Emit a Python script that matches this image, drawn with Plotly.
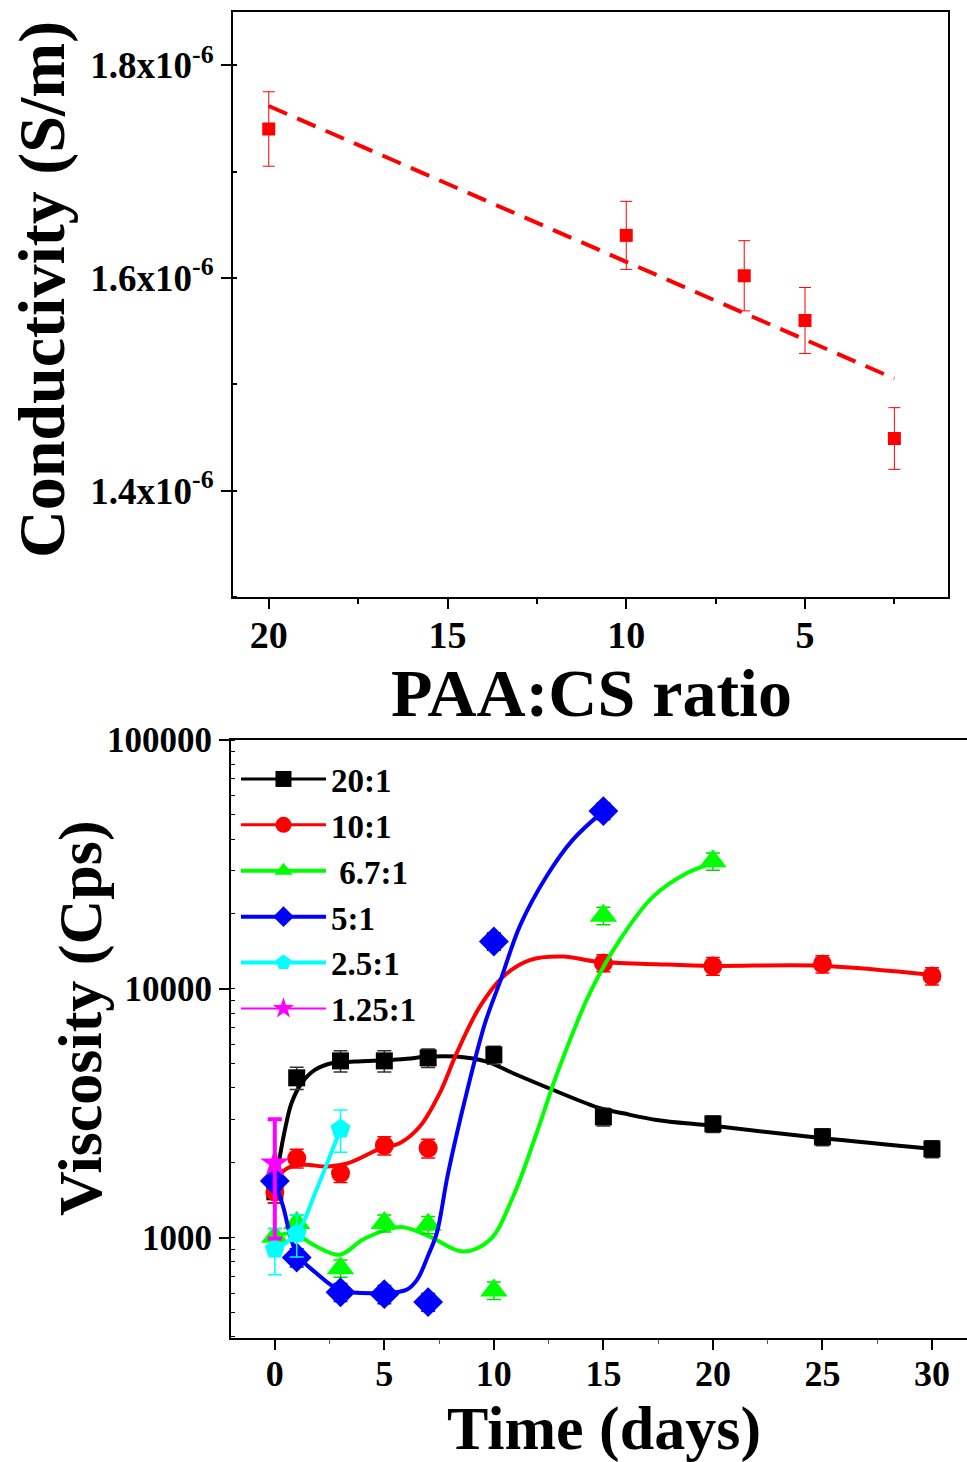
import numpy as np
import plotly.graph_objects as go

# ---------------- Top chart data: conductivity vs PAA:CS ratio ----------------
ratio = [20, 10, 6.7, 5, 2.5]
conductivity = [1.740e-6, 1.640e-6, 1.602e-6, 1.560e-6, 1.449e-6]
conductivity_err = [0.035e-6, 0.032e-6, 0.033e-6, 0.031e-6, 0.029e-6]

cond_tickvals = [1.4e-6, 1.6e-6, 1.8e-6]
cond_ticktext = ["1.4x10<sup>-6</sup>", "1.6x10<sup>-6</sup>", "1.8x10<sup>-6</sup>"]
ratio_tickvals = [20, 15, 10, 5]

# ---------------- Bottom chart data: viscosity vs time ----------------
days_20 = [0, 1, 3, 5, 7, 10, 15, 20, 25, 30]
visc_20 = [1531, 4395, 5140, 5140, 5285, 5435, 3063, 2870, 2546, 2276]
err_20 = [150, 450, 500, 500, 450, 450, 250, 220, 200, 180]

days_10 = [0, 1, 3, 5, 7, 10, 15, 20, 25, 30]
visc_10 = [1530, 2090, 1818, 2350, 2292, 15600, 12710, 12360, 12600, 11270]
err_10 = [150, 180, 150, 200, 200, 1200, 1000, 1000, 1000, 900]

days_67 = [0, 1, 3, 5, 7, 10, 15, 20]
visc_67 = [1010, 1146, 755, 1146, 1128, 615, 19700, 32600]
err_67 = [80, 90, 60, 90, 90, 50, 1600, 2600]

days_5 = [0, 1, 3, 5, 7, 10, 15]
visc_5 = [1693, 834, 605, 594, 552, 15500, 51800]
err_5 = [130, 70, 50, 50, 45, 1200, 4000]

days_25 = [0, 1, 3]
visc_25 = [901, 1038, 2736]
err_25 = [190, 200, 530]

days_125 = [0]
visc_125 = [1995]
err_125 = [1000]

# smooth guide curves
curve_20_x = [0, 0.23, 0.46, 0.76, 1.22, 1.83, 2.59, 3.65, 5.78, 7.08, 8.3, 9.67, 10.88, 12.71, 14.84, 15.9, 17.43, 20.0, 25.04, 30.06]
curve_20_y = [1530, 2121, 2715, 3475, 4180, 4729, 5029, 5105, 5221, 5350, 5350, 5105, 4585, 3927, 3318, 3164, 2977, 2818, 2513, 2276]

curve_10_x = [0, 0.3, 0.76, 1.37, 2.43, 3.35, 4.87, 5.7, 6.62, 7.53, 8.3, 9.36, 10.42, 11.64, 13.16, 14.69, 17.43, 20.0, 24.9, 30.06]
curve_10_y = [1560, 1820, 1935, 1965, 1935, 1996, 2293, 2400, 2800, 3816, 5518, 8490, 11200, 13060, 13490, 12880, 12570, 12370, 12405, 11370]

curve_67_x = [0, 0.5, 1.0, 1.9, 2.97, 4.0, 5.1, 5.86, 7.08, 8.6, 9.82, 10.88, 11.95, 12.86, 14.38, 15.75, 17.27, 18.8, 20.0]
curve_67_y = [1012, 1040, 1028, 923, 855, 982, 1077, 1104, 1012, 881, 982, 1466, 2632, 4500, 9620, 15740, 23490, 29160, 31970]

curve_5_x = [0, 0.38, 0.99, 1.9, 2.97, 4.95, 6.0, 6.5, 7.0, 7.4, 7.9, 8.75, 9.6, 10.3, 11.2, 12.4, 13.6, 15.0]
curve_5_y = [1693, 1336, 868, 721, 618, 600, 618, 680, 850, 1050, 1800, 3800, 7300, 10800, 18000, 28300, 39700, 51800]

curve_25_x = [0, 1, 1.9, 3]
curve_25_y = [901, 1040, 1560, 2736]

series = [
    ("20:1", "#000000", "square", 17, days_20, visc_20, err_20, curve_20_x, curve_20_y, 3, "#333333"),
    ("10:1", "#FF0000", "circle", 19, days_10, visc_10, err_10, curve_10_x, curve_10_y, 3, "#FF0000"),
    (" 6.7:1", "#00FF00", "triangle-up", 24, days_67, visc_67, err_67, curve_67_x, curve_67_y, 4, "#00DD00"),
    ("5:1", "#0000FF", "diamond", 23, days_5, visc_5, err_5, curve_5_x, curve_5_y, 4, "#0000FF"),
    ("2.5:1", "#00FFFF", "pentagon", 21, days_25, visc_25, err_25, curve_25_x, curve_25_y, 4, "#00FFFF"),
    ("1.25:1", "#FF00FF", "star", 22, days_125, visc_125, err_125, None, None, 2, "#FF00FF"),
]

FONT = "Liberation Serif"
W, H = 967, 1462

fig = go.Figure()

# ---------- top chart ----------
slope, intercept = np.polyfit(ratio, conductivity, 1)
fit_x = [ratio[0], ratio[-1]]
fit_y = [slope * v + intercept for v in fit_x]
fig.add_trace(go.Scatter(x=fit_x, y=fit_y, mode="lines", xaxis="x", yaxis="y",
                         line=dict(color="#FF0000", width=4, dash="20px,11px"),
                         showlegend=False, hoverinfo="skip"))
fig.add_trace(go.Scatter(x=ratio, y=conductivity, mode="markers", xaxis="x", yaxis="y",
                         marker=dict(symbol="square", size=13, color="#FF0000"),
                         error_y=dict(type="data", array=conductivity_err, color="#FF0000",
                                      thickness=1, width=6),
                         showlegend=False))

# ---------- bottom chart ----------
for name, color, symbol, size, dx, dy, de, cx, cy, lw, ecol in series:
    if cx is not None:
        fig.add_trace(go.Scatter(x=cx, y=cy, mode="lines", xaxis="x2", yaxis="y2",
                                 line=dict(color=color, width=4, shape="spline", smoothing=1.0),
                                 showlegend=False, hoverinfo="skip"))
    thick = 4 if name == "1.25:1" else 1.5
    fig.add_trace(go.Scatter(x=dx, y=dy, mode="markers", xaxis="x2", yaxis="y2",
                             marker=dict(symbol=symbol, size=size, color=color),
                             error_y=dict(type="data", array=de, color=ecol,
                                          thickness=thick, width=7),
                             showlegend=False))

# legend entries
for name, color, symbol, size, dx, dy, de, cx, cy, lw, ecol in series:
    fig.add_trace(go.Scatter(x=[None], y=[None], mode="lines+markers", xaxis="x2", yaxis="y2",
                             name=name,
                             line=dict(color=color, width=lw),
                             marker=dict(symbol=symbol, size=min(size, 20), color=color)))

def py(p):
    return (H - p) / H

axis_common = dict(showline=True, linecolor="black", linewidth=2, ticks="outside",
                   tickcolor="black", tickwidth=2, ticklen=10, showgrid=False, zeroline=False)

fig.update_layout(
    width=W, height=H,
    margin=dict(l=0, r=0, t=0, b=0, pad=0, autoexpand=False),
    paper_bgcolor="white", plot_bgcolor="white",
    font=dict(family=FONT, color="black"),
    xaxis=dict(domain=[233 / W, 948 / W], anchor="y", range=[21, 1],
               tickvals=ratio_tickvals, mirror=True, automargin=False,
               ticklabelstandoff=-7,
               tickfont=dict(family=FONT, size=38, weight="bold"),
               minor=dict(dtick=2.5, ticks="outside", ticklen=5, tickwidth=1.5, tickcolor="black"),
               **axis_common),
    yaxis=dict(domain=[py(597), py(12)], anchor="x", range=[1.30e-6, 1.85e-6],
               tickvals=cond_tickvals, ticktext=cond_ticktext, mirror=True, automargin=False,
               tickfont=dict(family=FONT, size=37, weight="bold"),
               minor=dict(dtick=0.1e-6, ticks="inside", ticklen=4, tickwidth=1.5, tickcolor="black"),
               **axis_common),
    xaxis2=dict(domain=[231 / W, 1.0], anchor="y2", range=[-2.0, 31.6],
                tickvals=[0, 5, 10, 15, 20, 25, 30], mirror=True, automargin=False,
                ticklabelstandoff=-7,
                tickfont=dict(family=FONT, size=36, weight="bold"),
                minor=dict(dtick=2.5, ticks="outside", ticklen=4, tickwidth=1, tickcolor="#555555"),
                **axis_common),
    yaxis2=dict(domain=[py(1338), py(740)], anchor="x2", type="log", automargin=False,
                range=[np.log10(396), 5], tickvals=[1000, 10000, 100000],
                ticktext=["1000", "10000", "100000"],
                tickfont=dict(family=FONT, size=35, weight="bold"),
                minor=dict(dtick="D1", ticks="inside", ticklen=4, tickwidth=1, tickcolor="black"),
                **axis_common),
    legend=dict(x=236 / W, y=py(751), xanchor="left", yanchor="top",
                bgcolor="rgba(0,0,0,0)", borderwidth=0,
                font=dict(family=FONT, size=33, weight="bold", color="black"),
                itemwidth=85, tracegroupgap=0, itemsizing="trace"),
    annotations=[
        dict(text="Conductivity (S/m)", x=42 / W, y=py(290), xref="paper", yref="paper",
             textangle=-90, showarrow=False, xanchor="center", yanchor="middle",
             font=dict(family=FONT, size=66, weight="bold")),
        dict(text="PAA:CS ratio", x=591 / W, y=py(693), xref="paper", yref="paper",
             showarrow=False, xanchor="center", yanchor="middle",
             font=dict(family=FONT, size=68, weight="bold")),
        dict(text="Viscosity (Cps)", x=80 / W, y=py(1018), xref="paper", yref="paper",
             textangle=-90, showarrow=False, xanchor="center", yanchor="middle",
             font=dict(family=FONT, size=62, weight="bold")),
        dict(text="Time (days)", x=604 / W, y=py(1428), xref="paper", yref="paper",
             showarrow=False, xanchor="center", yanchor="middle",
             font=dict(family=FONT, size=62, weight="bold")),
    ],
)

fig.write_html("out.html")
